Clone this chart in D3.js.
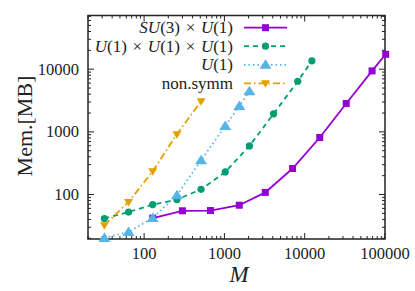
<!DOCTYPE html>
<html>
<head>
<meta charset="utf-8">
<script src="https://cdn.jsdelivr.net/npm/d3@7"></script>
<style>
  body { margin: 0; background: white; }
  text { font-family: 'Liberation Serif', 'DejaVu Serif', serif; fill: #222; }
</style>
</head>
<body>
<script>
// memory vs bond dimension, four symmetry settings
var seriesNames = ['SU(3)', 'U(1) × U(1) × U(1)', 'U(1)', 'non.symm'];

var mSU3 = [128, 300, 670, 1530, 3230, 7060, 15400, 32900, 69000, 102000];
var memSU3 = [42, 55, 55.5, 67.5, 108, 260, 813, 2835, 9400, 17300];

var mU1x3 = [32, 64, 128, 256, 512, 1024, 2048, 4096, 8192, 12288];
var memU1x3 = [41.4, 52.5, 69, 83, 121, 229, 597, 1940, 6430, 13600];

var mU1 = [32, 64, 128, 256, 512, 1024, 1536, 2048];
var memU1 = [20.3, 25.3, 42.3, 97.5, 352, 1245, 2594, 4455];

var mNon = [32, 64, 128, 256, 512];
var memNon = [32.4, 76, 235, 917, 3083];

var xTicks = [100, 1000, 10000, 100000];
var yTicks = [100, 1000, 10000];

var opts = {
  width: 415,
  height: 291,
  left: 88,
  right: 385,
  top: 15.5,
  bottom: 239
};

var colors = ['#9400d3', '#009e73', '#56b4e9', '#e69f00'];
var dashes = [null, '5,4', '1.5,3', '7,3,1.5,3'];

var svg = d3.select('body').append('svg')
  .attr('width', opts.width)
  .attr('height', opts.height);

var x = d3.scaleLog().domain([20, 100000]).range([opts.left, opts.right]);
var y = d3.scaleLog().domain([19.5, 72000]).range([opts.bottom, opts.top]);

// minor tick values
var minorTicks = function(lo, hi) {
  var out = [];
  for (var p = lo; p <= hi; p++) {
    for (var k = 1; k < 10; k++) {
      out.push(k * Math.pow(10, p));
    }
  }
  return out;
};

var xMinor = minorTicks(1, 5).filter(function(v) { return v >= 20 && v <= 100000; });
var yMinor = minorTicks(1, 4).filter(function(v) { return v >= 19.5 && v <= 72000; });

var tickG = svg.append('g').attr('stroke', '#222').attr('stroke-width', 1);

xMinor.forEach(function(v) {
  var len = xTicks.indexOf(v) >= 0 ? 6 : 3;
  tickG.append('line').attr('x1', x(v)).attr('x2', x(v)).attr('y1', opts.bottom).attr('y2', opts.bottom - len);
  tickG.append('line').attr('x1', x(v)).attr('x2', x(v)).attr('y1', opts.top).attr('y2', opts.top + len);
});
yMinor.forEach(function(v) {
  var len = yTicks.indexOf(v) >= 0 ? 6 : 3;
  tickG.append('line').attr('y1', y(v)).attr('y2', y(v)).attr('x1', opts.left).attr('x2', opts.left + len);
  tickG.append('line').attr('y1', y(v)).attr('y2', y(v)).attr('x1', opts.right).attr('x2', opts.right - len);
});

svg.append('rect')
  .attr('x', opts.left)
  .attr('y', opts.top)
  .attr('width', opts.right - opts.left)
  .attr('height', opts.bottom - opts.top)
  .attr('fill', 'none')
  .attr('stroke', '#222')
  .attr('stroke-width', 1.5);

svg.selectAll('.xlab').data(xTicks).enter().append('text')
  .attr('class', 'xlab')
  .attr('x', function(d) { return x(d); })
  .attr('y', 259)
  .attr('text-anchor', 'middle')
  .style('font-size', '16.5px')
  .text(function(d) { return d; });

svg.selectAll('.ylab').data(yTicks).enter().append('text')
  .attr('class', 'ylab')
  .attr('x', 79)
  .attr('y', function(d) { return y(d) + 5.5; })
  .attr('text-anchor', 'end')
  .style('font-size', '16.5px')
  .text(function(d) { return d; });

svg.append('text')
  .attr('x', 239)
  .attr('y', 282)
  .attr('text-anchor', 'middle')
  .style('font-size', '23px')
  .style('font-style', 'italic')
  .text('M');

svg.append('text')
  .attr('transform', 'translate(32,126) rotate(-90)')
  .attr('text-anchor', 'middle')
  .style('font-size', '22px')
  .text('Mem.[MB]');

// markers
var drawMarker = function(g, i, cx, cy, col) {
  if (i === 0) {
    g.append('rect').attr('x', cx - 3.5).attr('y', cy - 3.5).attr('width', 7).attr('height', 7).attr('fill', col);
  } else if (i === 1) {
    g.append('circle').attr('cx', cx).attr('cy', cy).attr('r', 3.6).attr('fill', col);
  } else if (i === 2) {
    g.append('path').attr('d', 'M' + cx + ',' + (cy - 5.5) + 'L' + (cx + 6) + ',' + (cy + 4) + 'L' + (cx - 6) + ',' + (cy + 4) + 'Z').attr('fill', col);
  } else {
    g.append('path').attr('d', 'M' + cx + ',' + (cy + 4.5) + 'L' + (cx + 4.5) + ',' + (cy - 3) + 'L' + (cx - 4.5) + ',' + (cy - 3) + 'Z').attr('fill', col);
  }
};

var series = [
  [mSU3, memSU3],
  [mU1x3, memU1x3],
  [mU1, memU1],
  [mNon, memNon]
];

var line = d3.line()
  .x(function(d) { return x(d[0]); })
  .y(function(d) { return y(d[1]); });

series.forEach(function(s, i) {
  var pts = s[0].map(function(m, j) { return [m, s[1][j]]; });
  var g = svg.append('g');
  g.append('path')
    .attr('d', line(pts))
    .attr('fill', 'none')
    .attr('stroke', colors[i])
    .attr('stroke-width', 1.8)
    .attr('stroke-dasharray', dashes[i]);
  pts.forEach(function(p) {
    drawMarker(g, i, x(p[0]), y(p[1]), colors[i]);
  });
});

// legend
var legY = [27.7, 46.2, 64.8, 83.3];
var leg = svg.append('g');
var sp = '\u2004';
var labelParts = [
  [['SU', 1], ['(3)' + sp + '×' + sp, 0], ['U', 1], ['(1)', 0]],
  [['U', 1], ['(1)' + sp + '×' + sp, 0], ['U', 1], ['(1)' + sp + '×' + sp, 0], ['U', 1], ['(1)', 0]],
  [['U', 1], ['(1)', 0]],
  [['non.symm', 0]]
];
labelParts.forEach(function(parts, i) {
  var t = leg.append('text')
    .attr('x', 233)
    .attr('y', legY[i] + 5.5)
    .attr('text-anchor', 'end')
    .style('font-size', '17px');
  parts.forEach(function(p) {
    t.append('tspan').style('font-style', p[1] ? 'italic' : 'normal').text(p[0]);
  });
  leg.append('line')
    .attr('x1', 244).attr('x2', 287)
    .attr('y1', legY[i]).attr('y2', legY[i])
    .attr('stroke', colors[i])
    .attr('stroke-width', 1.8)
    .attr('stroke-dasharray', dashes[i]);
  drawMarker(leg, i, 265.5, legY[i], colors[i]);
});
</script>
</body>
</html>
